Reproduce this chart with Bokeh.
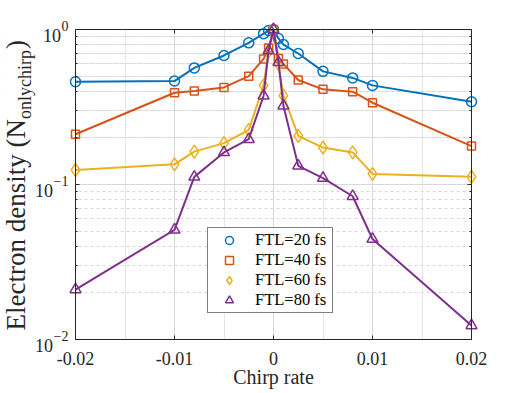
import math
from bokeh.plotting import figure
from bokeh.models import (FixedTicker, LogAxis, LinearAxis, Label, Legend, LegendItem,
                          CustomJSTickFormatter, ColumnDataSource, Grid, BoxAnnotation)
from bokeh.embed import file_html
from bokeh.resources import INLINE

# ---------------- data ----------------
chirp = [-0.02, -0.01, -0.008, -0.005, -0.0025, -0.001, -0.0005, 0.0,
         0.0005, 0.001, 0.0025, 0.005, 0.008, 0.01, 0.02]
ftl20 = [0.46, 0.465, 0.565, 0.68, 0.82, 0.94, 0.985, 1.0,
         0.875, 0.80, 0.70, 0.537, 0.487, 0.436, 0.342]
ftl40 = [0.211, 0.391, 0.401, 0.423, 0.50, 0.646, 0.76, 1.0,
         0.65, 0.60, 0.472, 0.411, 0.397, 0.337, 0.177]
ftl60 = [0.124, 0.135, 0.163, 0.185, 0.225, 0.436, 0.72, 1.0,
         0.60, 0.374, 0.206, 0.173, 0.161, 0.117, 0.112]
ftl80 = [0.021, 0.051, 0.112, 0.161, 0.196, 0.374, 0.73, 1.0,
         0.615, 0.322, 0.132, 0.110, 0.084, 0.0445, 0.0123]
series_names = ["FTL=20 fs", "FTL=40 fs", "FTL=60 fs", "FTL=80 fs"]

x_lim = [-0.02, 0.02]
y_lim = [0.01, 1.0]
x_ticks = [-0.02, -0.01, 0.0, 0.01, 0.02]
x_tick_labels = ["-0.02", "-0.01", "0", "0.01", "0.02"]
y_ticks = [0.01, 0.1, 1.0]
y_tick_exponents = ["\u22122", "\u22121", "0"]
y_minor = [m * 10.0 ** e for e in (-2, -1) for m in range(2, 10)]

x_label = "Chirp rate"
y_label_main = "Electron density (N"
y_label_sub = "onlychirp"
y_label_end = ")"

# ---------------- layout (pixels) ----------------
W, H = 521, 393
FL, FR, FT, FB = 75, 471, 29, 339          # axes box inside the canvas
xspan = x_lim[1] - x_lim[0]
dec = math.log10(y_lim[1]) - math.log10(y_lim[0])
x_range = (x_lim[0] - xspan * FL / (FR - FL), x_lim[1] + xspan * (W - FR) / (FR - FL))
y_range = (y_lim[0] * 10 ** (-dec * (H - FB) / (FB - FT)), y_lim[1] * 10 ** (dec * FT / (FB - FT)))
BL = 0.33   # baseline correction (em)

FONT = "Liberation Serif"
TXT = "#262626"
GRID = "#d8d8d8"
colors = ["#0072BD", "#D95319", "#EDB120", "#7E2F8E"]
markers = ["circle", "square", "diamond", "triangle"]
msizes = [10, 8, 13, 11]

p = figure(width=W, height=H, x_range=x_range, y_range=y_range, y_axis_type="log",
           x_axis_location=None, y_axis_location=None,
           output_backend="svg", toolbar_location=None,
           min_border=0, min_border_left=0, min_border_right=0,
           min_border_top=0, min_border_bottom=0,
           background_fill_color="white", border_fill_color="white")
p.outline_line_color = None

xt = FixedTicker(ticks=x_ticks)
yt = FixedTicker(ticks=y_ticks, minor_ticks=y_minor)
empty = CustomJSTickFormatter(code='return ""')

common = dict(axis_line_color=TXT, major_tick_line_color=TXT, major_tick_in=4,
              major_tick_out=0, minor_tick_in=2, minor_tick_out=0)

bottom = LinearAxis(ticker=xt, fixed_location=y_lim[0], bounds=tuple(x_lim),
                    major_label_overrides={t: s for t, s in zip(x_ticks, x_tick_labels)},
                    major_label_text_font=FONT, major_label_text_font_size="18px",
                    major_label_text_color=TXT, major_label_standoff=12,
                    minor_tick_line_color=None, **common)
top = LinearAxis(ticker=xt, fixed_location=y_lim[1], bounds=tuple(x_lim), formatter=empty,
                 major_label_text_font_size="0px", minor_tick_line_color=None, **common)
left = LogAxis(ticker=yt, fixed_location=x_lim[0], bounds=tuple(y_lim), formatter=empty,
               major_label_text_font_size="0px", minor_tick_line_color=TXT, **common)
right = LogAxis(ticker=yt, fixed_location=x_lim[1], bounds=tuple(y_lim), formatter=empty,
                major_label_text_font_size="0px", minor_tick_line_color=TXT, **common)

xgrid = Grid(dimension=0, ticker=xt, grid_line_color=GRID)
ygrid = Grid(dimension=1, ticker=yt, grid_line_color=GRID, minor_grid_line_color=GRID,
             minor_grid_line_dash="3 3")
p.add_layout(xgrid)
p.add_layout(ygrid)
# white masks so the grid stays inside the axes box
for kw in (dict(right=x_lim[0]), dict(left=x_lim[1]), dict(bottom=y_lim[1]), dict(top=y_lim[0])):
    p.add_layout(BoxAnnotation(fill_color="white", fill_alpha=1, line_color=None,
                               level="underlay", **kw))

items = []
for ys, c, m, s, name in zip([ftl20, ftl40, ftl60, ftl80], colors, markers, msizes, series_names):
    src = ColumnDataSource(dict(x=chirp, y=ys))
    p.line("x", "y", source=src, line_color=c, line_width=2)
    r = p.scatter("x", "y", source=src, marker=m, size=s, line_color=c,
                  fill_color=None, line_width=1.5)
    items.append(LegendItem(label=name, renderers=[r]))

p.add_layout(bottom, "below")
p.add_layout(top, "above")
p.add_layout(left, "left")
p.add_layout(right, "right")

legend = Legend(items=items, location=(207, H - 313), label_text_font=FONT,
                label_text_font_size="16.5px", label_text_color="black",
                label_height=20, glyph_height=20, glyph_width=38, label_standoff=7,
                label_width=75, padding=2, spacing=0, margin=0,
                border_line_color="black", border_line_width=1,
                background_fill_color="white", background_fill_alpha=1)
p.add_layout(legend, "center")

# y tick labels (10 with superscript)
for t, e in zip(y_ticks, y_tick_exponents):
    we = (0.5 * len(e) + (0.064 if "\u2212" in e else 0)) * 14
    p.add_layout(Label(x=x_lim[0], y=t, x_offset=-7, y_offset=-1.5 + BL * 14, text=e,
                       text_align="right", text_baseline="alphabetic", text_font=FONT,
                       text_font_size="14px", text_color=TXT))
    p.add_layout(Label(x=x_lim[0], y=t, x_offset=-7 - we - 0.5, y_offset=-11.5 + BL * 18,
                       text="10", text_align="right", text_baseline="alphabetic",
                       text_font=FONT, text_font_size="18px", text_color=TXT))

# x axis label
p.add_layout(Label(x=sum(x_lim) / 2, y=y_lim[0], y_offset=-44 + BL * 20, text=x_label,
                   text_align="center", text_baseline="alphabetic", text_font=FONT,
                   text_font_size="20px", text_color=TXT))

# y axis label with subscript
FM, FS = 27, 18
w_main = 7.832 * FM
w_sub = 3.833 * FS
p.add_layout(Label(x=x_lim[0], y=y_lim[0], x_offset=-51 - BL * FM, y_offset=9,
                   angle=math.pi / 2, text=y_label_main, text_align="left",
                   text_baseline="alphabetic", text_font=FONT, text_font_size=f"{FM}px",
                   text_color=TXT))
p.add_layout(Label(x=x_lim[0], y=y_lim[0], x_offset=-45 - BL * FS, y_offset=9 + w_main,
                   angle=math.pi / 2, text=y_label_sub, text_align="left",
                   text_baseline="alphabetic", text_font=FONT, text_font_size=f"{FS}px",
                   text_color=TXT))
p.add_layout(Label(x=x_lim[0], y=y_lim[0], x_offset=-51 - BL * FM,
                   y_offset=9 + w_main + w_sub + 1, angle=math.pi / 2, text=y_label_end,
                   text_align="left", text_baseline="alphabetic", text_font=FONT,
                   text_font_size=f"{FM}px", text_color=TXT))

open("out.html", "w").write(file_html(p, INLINE))
